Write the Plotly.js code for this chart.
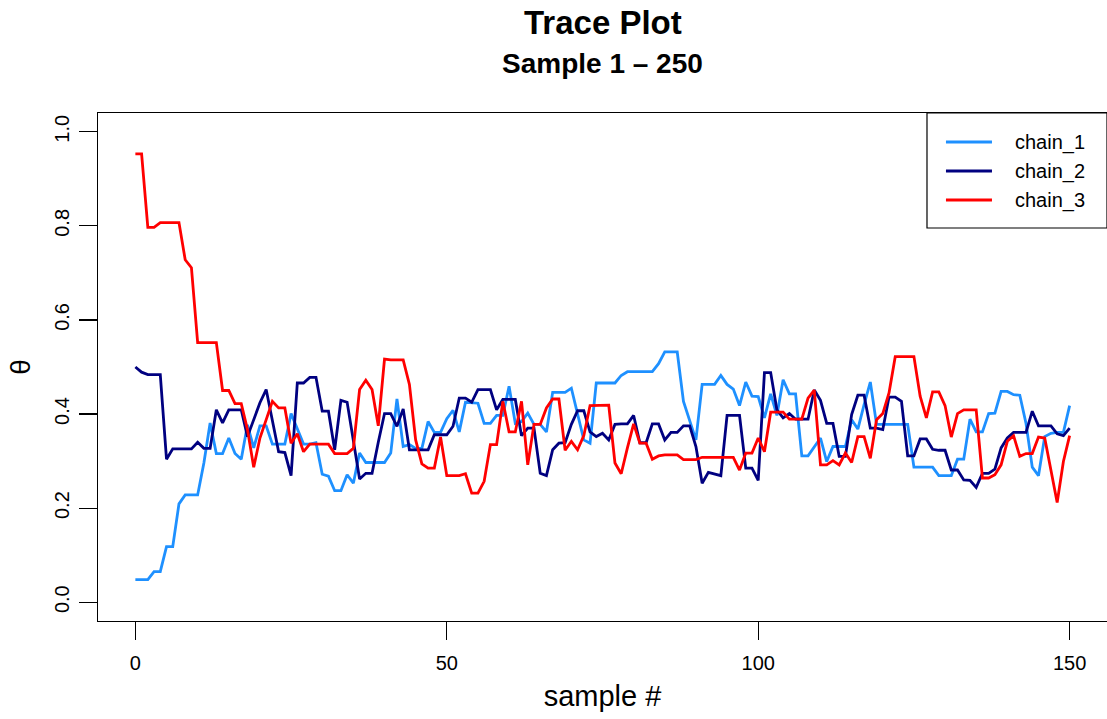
<!DOCTYPE html>
<html>
<head>
<meta charset="utf-8">
<script src="https://cdn.plot.ly/plotly-3.0.1.min.js"></script>
<style>html,body{margin:0;padding:0;background:#fff;}#chart{width:1107px;height:719px;}</style>
</head>
<body>
<div id="chart"></div>
<script>
const chainNames = ["chain_1", "chain_2", "chain_3"];
const chainColors = ["#1E90FF", "#000080", "#FF0000"];

const chain1 = [0.048,0.048,0.048,0.065,0.065,0.118,0.118,0.209,0.228,0.228,
0.228,0.296,0.381,0.316,0.316,0.349,0.316,0.304,0.377,0.328,
0.375,0.375,0.336,0.336,0.336,0.401,0.370,0.336,0.336,0.339,
0.272,0.268,0.237,0.237,0.271,0.253,0.317,0.297,0.297,0.297,
0.297,0.317,0.432,0.331,0.335,0.327,0.327,0.384,0.361,0.361,
0.390,0.408,0.362,0.425,0.424,0.423,0.380,0.380,0.397,0.397,
0.459,0.380,0.384,0.402,0.378,0.378,0.362,0.446,0.446,0.446,
0.455,0.399,0.345,0.338,0.466,0.466,0.466,0.466,0.482,0.490,
0.490,0.490,0.490,0.490,0.507,0.532,0.532,0.532,0.427,0.384,
0.345,0.463,0.463,0.463,0.482,0.463,0.453,0.418,0.468,0.438,
0.437,0.392,0.443,0.397,0.473,0.443,0.443,0.311,0.311,0.330,
0.349,0.299,0.331,0.331,0.331,0.388,0.368,0.420,0.468,0.378,
0.378,0.378,0.378,0.378,0.378,0.287,0.287,0.287,0.287,0.269,
0.269,0.269,0.304,0.304,0.389,0.362,0.362,0.401,0.402,0.448,
0.448,0.441,0.440,0.380,0.287,0.269,0.352,0.359,0.361,0.361,
0.418];

const chain2 = [0.500,0.489,0.484,0.484,0.484,0.304,0.326,0.326,0.326,0.326,
0.340,0.327,0.327,0.409,0.381,0.409,0.409,0.409,0.352,0.390,
0.424,0.452,0.388,0.320,0.318,0.269,0.466,0.466,0.478,0.478,
0.406,0.406,0.324,0.429,0.425,0.345,0.262,0.274,0.274,0.340,
0.401,0.401,0.374,0.411,0.324,0.324,0.324,0.324,0.356,0.356,
0.356,0.374,0.434,0.434,0.425,0.452,0.452,0.452,0.409,0.431,
0.431,0.431,0.354,0.370,0.370,0.274,0.269,0.324,0.338,0.339,
0.378,0.407,0.407,0.362,0.352,0.359,0.345,0.378,0.379,0.379,
0.397,0.339,0.339,0.379,0.379,0.345,0.361,0.361,0.375,0.375,
0.331,0.253,0.276,0.273,0.269,0.397,0.397,0.397,0.285,0.285,
0.259,0.488,0.488,0.409,0.392,0.401,0.389,0.389,0.389,0.451,
0.429,0.380,0.380,0.310,0.310,0.399,0.440,0.440,0.370,0.370,
0.367,0.436,0.436,0.427,0.311,0.311,0.347,0.347,0.325,0.323,
0.323,0.281,0.281,0.260,0.259,0.244,0.274,0.274,0.283,0.328,
0.349,0.361,0.361,0.361,0.406,0.375,0.375,0.375,0.358,0.354,
0.370];

const chain3 = [0.953,0.953,0.797,0.797,0.807,0.807,0.807,0.807,0.728,0.711,
0.552,0.552,0.552,0.552,0.450,0.450,0.422,0.422,0.367,0.287,
0.349,0.388,0.427,0.413,0.413,0.338,0.358,0.320,0.336,0.336,
0.336,0.336,0.316,0.316,0.316,0.327,0.452,0.472,0.452,0.375,
0.517,0.515,0.515,0.515,0.463,0.345,0.294,0.285,0.285,0.351,
0.269,0.269,0.269,0.273,0.232,0.232,0.257,0.335,0.335,0.427,
0.362,0.362,0.427,0.292,0.378,0.378,0.413,0.432,0.432,0.323,
0.342,0.324,0.354,0.418,0.418,0.419,0.419,0.296,0.273,0.328,
0.379,0.338,0.338,0.304,0.311,0.313,0.313,0.313,0.303,0.303,
0.303,0.308,0.308,0.308,0.308,0.308,0.308,0.281,0.317,0.317,
0.349,0.320,0.404,0.404,0.404,0.389,0.389,0.389,0.434,0.451,
0.292,0.292,0.301,0.292,0.317,0.297,0.352,0.352,0.306,0.388,
0.401,0.445,0.522,0.522,0.522,0.522,0.438,0.392,0.447,0.447,
0.418,0.351,0.401,0.409,0.409,0.409,0.264,0.264,0.271,0.292,
0.342,0.354,0.310,0.316,0.316,0.351,0.349,0.281,0.212,0.299,
0.354];

const xTickVals = [0, 50, 100, 150];
const yTickVals = [0, 0.2, 0.4, 0.6, 0.8, 1.0];
const yTickText = ["0.0", "0.2", "0.4", "0.6", "0.8", "1.0"];
const titleText = "Trace Plot";
const subtitleText = "Sample 1 \u2013 250";
const xTitle = "sample #";
const yTitle = "\u03b8";

const chains = [chain1, chain2, chain3];
const traces = chains.map((vals, k) => ({
  x: vals.map((_, i) => i),
  y: vals,
  type: "scatter",
  mode: "lines",
  name: chainNames[k],
  showlegend: false,
  line: {color: chainColors[k], width: 2.8}
}));

const FONT = "Liberation Sans, Arial, Helvetica, sans-serif";

// Legend box in R style (box + line samples + labels), built from the names/colours arrays
const legX0 = 0.8216, legY0 = 0.7736, legLineX0 = 0.8404, legLineX1 = 0.8860, legTextX = 0.9068;
const legRowY = [0.9429, 0.8858, 0.8287];
const shapes = [{type: "rect", xref: "paper", yref: "paper", x0: legX0, x1: 1.0, y0: legY0, y1: 1.0,
  line: {color: "#000", width: 1.2}, fillcolor: "#fff", layer: "above"}];
const annotations = [
  {text: "<b>" + titleText + "</b>", xref: "paper", yref: "paper", x: 0.5, y: 1.179,
   xanchor: "center", yanchor: "middle", showarrow: false, font: {size: 33, family: FONT, color: "#000"}},
  {text: "<b>" + subtitleText + "</b>", xref: "paper", yref: "paper", x: 0.5, y: 1.098,
   xanchor: "center", yanchor: "middle", showarrow: false, font: {size: 28, family: FONT, color: "#000"}}
];
chainNames.forEach((nm, k) => {
  shapes.push({type: "line", xref: "paper", yref: "paper", x0: legLineX0, x1: legLineX1,
    y0: legRowY[k], y1: legRowY[k], line: {color: chainColors[k], width: 3}, layer: "above"});
  annotations.push({text: nm, xref: "paper", yref: "paper", x: legTextX, y: legRowY[k],
    xanchor: "left", yanchor: "middle", showarrow: false, font: {size: 20, family: FONT, color: "#000"}});
});

const layout = {
  width: 1107, height: 719,
  margin: {l: 98, r: 0, t: 113, b: 98},
  paper_bgcolor: "#fff", plot_bgcolor: "#fff",
  font: {family: FONT, color: "#000"},
  showlegend: false,
  xaxis: {
    range: [-6, 156], showgrid: false, zeroline: false,
    showline: true, mirror: true, linecolor: "#000", linewidth: 1.2,
    ticks: "outside", ticklen: 18, tickwidth: 1.2, tickcolor: "#000",
    tickvals: xTickVals, ticktext: xTickVals.map(String),
    tickfont: {size: 20, family: FONT}, ticklabelstandoff: 6,
    title: {text: xTitle, font: {size: 29, family: FONT}, standoff: 12}
  },
  yaxis: {
    range: [-0.04, 1.04], showgrid: false, zeroline: false,
    showline: true, mirror: true, linecolor: "#000", linewidth: 1.2,
    ticks: "outside", ticklen: 18, tickwidth: 1.2, tickcolor: "#000",
    tickvals: yTickVals, ticktext: yTickText, tickangle: -90,
    tickfont: {size: 20, family: FONT}, ticklabelstandoff: 2,
    title: {text: yTitle, font: {size: 28, family: FONT}, standoff: 12}
  },
  shapes: shapes,
  annotations: annotations
};

Plotly.newPlot("chart", traces, layout, {displayModeBar: false, staticPlot: true});
</script>
</body>
</html>
